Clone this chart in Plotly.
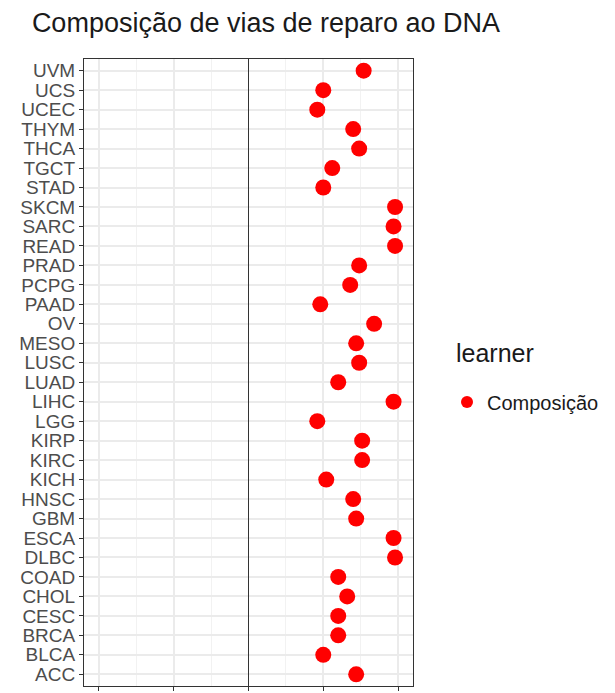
import plotly.graph_objects as go

categories = ["ACC", "BLCA", "BRCA", "CESC", "CHOL", "COAD", "DLBC", "ESCA", "GBM", "HNSC",
              "KICH", "KIRC", "KIRP", "LGG", "LIHC", "LUAD", "LUSC", "MESO", "OV", "PAAD",
              "PCPG", "PRAD", "READ", "SARC", "SKCM", "STAD", "TGCT", "THCA", "THYM", "UCEC",
              "UCS", "UVM"]
values = [0.72, 0.50, 0.60, 0.60, 0.66, 0.60, 0.98, 0.97, 0.72, 0.70,
          0.52, 0.76, 0.76, 0.46, 0.97, 0.60, 0.74, 0.72, 0.84, 0.48,
          0.68, 0.74, 0.98, 0.97, 0.98, 0.50, 0.56, 0.74, 0.70, 0.46,
          0.50, 0.77]
series_name = "Composição"
title_text = "Composição de vias de reparo ao DNA"
legend_title = "learner"

W, H = 615, 693
L, T = 76, 51
PW, PH = 329, 627
R = W - L - PW
B = H - T - PH

def px_x(fx):
    return (fx - L) / PW

def px_y(fy):
    return (T + PH - fy) / PH

fig = go.Figure()
fig.add_trace(go.Scatter(
    x=values, y=categories, mode="markers", name=series_name,
    marker=dict(color="#FF0000", size=16, line=dict(width=0)),
    showlegend=True,
))

fig.add_annotation(
    text=legend_title, xref="paper", yref="paper",
    x=px_x(446), y=px_y(345), xanchor="left", yanchor="middle",
    showarrow=False, font=dict(size=25, color="#1a1a1a"),
)

fig.update_layout(
    width=W, height=H,
    margin=dict(l=L, r=R, t=T, b=B, pad=0, autoexpand=False),
    paper_bgcolor="white", plot_bgcolor="white",
    font=dict(family="Liberation Sans, Arial, sans-serif", color="#4D4D4D"),
    title=dict(text=title_text, x=258 / W, xanchor="center", y=1 - 15 / H, yanchor="middle",
               font=dict(size=27, color="#1a1a1a")),
    showlegend=True,
    legend=dict(
        font=dict(size=20, color="#1a1a1a"),
        x=px_x(439), xanchor="left",
        y=px_y(394), yanchor="middle",
        bgcolor="rgba(0,0,0,0)", itemsizing="constant",
    ),
    xaxis=dict(
        range=[-1.1, 1.1], tick0=0, dtick=0.5, automargin=False,
        showgrid=True, gridcolor="#EBEBEB", gridwidth=1.5,
        minor=dict(dtick=0.25, tick0=0, showgrid=True, gridcolor="#F2F2F2", gridwidth=1),
        zeroline=True, zerolinecolor="#333333", zerolinewidth=1,
        showticklabels=False, ticks="outside", ticklen=4, tickcolor="#333333",
        showline=True, linecolor="#333333", linewidth=1, mirror=True,
    ),
    yaxis=dict(
        type="category", categoryorder="array", categoryarray=categories,
        tickmode="array", tickvals=categories, ticktext=categories,
        range=[-0.6, len(categories) - 0.4], automargin=False,
        showgrid=True, gridcolor="#EBEBEB", gridwidth=1.5,
        ticks="outside", ticklen=4, tickcolor="#333333",
        tickfont=dict(size=19, color="#4D4D4D"),
        showline=True, linecolor="#333333", linewidth=1, mirror=True,
        zeroline=False,
    ),
)

fig.write_html("out.html")
